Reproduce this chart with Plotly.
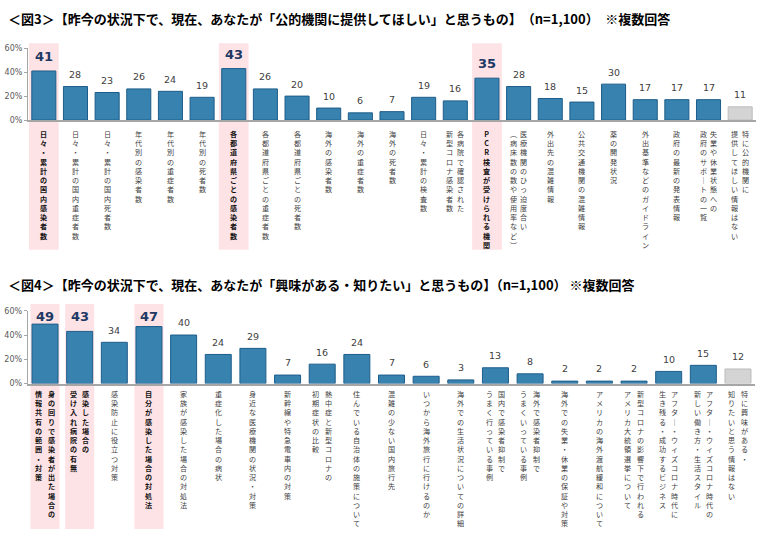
import plotly.graph_objects as go

# ---------------- data ----------------
title3 = "＜図3＞【昨今の状況下で、現在、あなたが「公的機関に提供してほしい」と思うもの】　（n=1,100）　※複数回答"
title4 = "＜図4＞【昨今の状況下で、現在、あなたが「興味がある・知りたい」と思うもの】（n=1,100） ※複数回答"

top_labels = [
    ["日々・累計の国内感染者数"],
    ["日々・累計の国内重症者数"],
    ["日々・累計の国内死者数"],
    ["年代別の感染者数"],
    ["年代別の重症者数"],
    ["年代別の死者数"],
    ["各都道府県ごとの感染者数"],
    ["各都道府県ごとの重症者数"],
    ["各都道府県ごとの死者数"],
    ["海外の感染者数"],
    ["海外の重症者数"],
    ["海外の死者数"],
    ["日々・累計の検査数"],
    ["各病院で確認された", "新型コロナ感染者数"],
    ["PCR検査が受けられる機関"],
    ["医療機関のひっ迫度合い", "（病床数の数や使用率など）"],
    ["外出先の混雑情報"],
    ["公共交通機関の混雑情報"],
    ["薬の開発状況"],
    ["外出基準などのガイドライン"],
    ["政府の最新の発表情報"],
    ["失業や休業状態への", "政府のサポートの一覧"],
    ["特に公的機関に", "提供してほしい情報はない"],
]
top_values = [41, 28, 23, 26, 24, 19, 43, 26, 20, 10, 6, 7, 19, 16, 35, 28, 18, 15, 30, 17, 17, 17, 11]
top_highlight = [0, 6, 14]
top_none = [22]

bot_labels = [
    ["身の回りで感染者が出た場合の", "情報共有の範囲・対策"],
    ["感染した場合の", "受け入れ病院の有無"],
    ["感染防止に役立つ対策"],
    ["自分が感染した場合の対処法"],
    ["家族が感染した場合の対処法"],
    ["重症化した場合の病状"],
    ["身近な医療機関の状況・対策"],
    ["新幹線や特急電車内の対策"],
    ["熱中症と新型コロナの", "初期症状の比較"],
    ["住んでいる自治体の施策について"],
    ["混雑の少ない国内旅行先"],
    ["いつから海外旅行に行けるのか"],
    ["海外での生活状況についての詳細"],
    ["国内で感染者抑制で", "うまく行っている事例"],
    ["海外で感染者抑制で", "うまくいっている事例"],
    ["海外での失業・休業の保証や対策"],
    ["アメリカの海外渡航緩和について"],
    ["新型コロナの影響下で行われる", "アメリカ大統領選挙について"],
    ["アフター・ウィズコロナ時代に", "生き残る・成功するビジネス"],
    ["アフター・ウィズコロナ時代の", "新しい働き方・生活スタイル"],
    ["特に興味がある・", "知りたいと思う情報はない"],
]
bot_values = [49, 43, 34, 47, 40, 24, 29, 7, 16, 24, 7, 6, 3, 13, 8, 2, 2, 2, 10, 15, 12]
bot_highlight = [0, 1, 3]
bot_none = [20]

tick_vals = [0, 20, 40, 60]
tick_text = ["0%", "20%", "40%", "60%"]

# ---------------- styling ----------------
W, H = 760, 538
BAR = "#3782af"
BAR_LINE = "#1e5d8a"
GRAY = "#d4d4d4"
GRAY_LINE = "#bcbcbc"
PINK = "#fde3e6"
AXIS = "#a6a6a6"
JP = "Noto Sans CJK JP"
NUM = "DejaVu Sans"
LAB_SIZE = 7.1

# vertical-writing forms for characters that rotate in tategaki
VERT = {"ー": "｜", "（": "︵", "）": "︶", "〜": "≀", "～": "≀"}


def py(p):
    return 1 - p / H


def px(p):
    return p / W


def vertical(s):
    return "<br>".join(VERT.get(ch, ch) for ch in s)


fig = go.Figure()

panels = [
    dict(labels=top_labels, values=top_values, hl=top_highlight, none=top_none,
         xa="x", ya="y", dom_x=(28, 756), dom_y=(118, 45), width=0.76,
         band=(40, 250), band_half=0.47, lab_top=126, col_off=0.17),
    dict(labels=bot_labels, values=bot_values, hl=bot_highlight, none=bot_none,
         xa="x2", ya="y2", dom_x=(27.7, 755.3), dom_y=(386, 312), width=0.75,
         band=(305, 534), band_half=0.42, lab_top=391, col_off=0.18),
]

annotations = []
shapes = []

for k, p in enumerate(panels):
    n = len(p["values"])
    xs = list(range(n))
    colors = [GRAY if i in p["none"] else BAR for i in xs]
    lcolors = [GRAY_LINE if i in p["none"] else BAR_LINE for i in xs]
    fig.add_trace(go.Bar(
        x=xs, y=p["values"], width=p["width"],
        marker=dict(color=colors, line=dict(color=lcolors, width=1)),
        xaxis=p["xa"], yaxis=p["ya"], hoverinfo="skip", showlegend=False,
    ))
    axis_suffix = "" if k == 0 else "2"
    fig.update_layout(**{
        "xaxis" + axis_suffix: dict(
            domain=[px(p["dom_x"][0]), px(p["dom_x"][1])], range=[-0.5, n - 0.5],
            showticklabels=False, showgrid=False, zeroline=False, ticks="",
            showline=True, linecolor=AXIS, linewidth=2, anchor=p["ya"], fixedrange=True,
        ),
        "yaxis" + axis_suffix: dict(
            domain=[py(p["dom_y"][0]), py(p["dom_y"][1])], range=[0, 60],
            tickvals=tick_vals, ticktext=tick_text, ticks="outside", ticklen=3,
            tickcolor=AXIS, showline=True, linecolor=AXIS, linewidth=1,
            showgrid=False, zeroline=False, anchor=p["xa"],
            tickfont=dict(family=NUM, size=8, color="#595959"), fixedrange=True,
        ),
    })
    # highlight bands
    for i in p["hl"]:
        shapes.append(dict(
            type="rect", xref=p["xa"], yref="paper",
            x0=i - p["band_half"], x1=i + p["band_half"],
            y0=py(p["band"][1]), y1=py(p["band"][0]),
            fillcolor=PINK, line=dict(width=0), layer="below",
        ))
    # value labels
    for i, v in enumerate(p["values"]):
        if i in p["hl"]:
            annotations.append(dict(
                x=i, y=min(v + 12, 55), xref=p["xa"], yref=p["ya"],
                text="<b>%d</b>" % v, showarrow=False, yanchor="middle",
                font=dict(family=NUM, size=13, color="#1f3864"),
            ))
        else:
            annotations.append(dict(
                x=i, y=v + 10, xref=p["xa"], yref=p["ya"],
                text=str(v), showarrow=False, yanchor="middle",
                font=dict(family=NUM, size=9.5, color="#404040"),
            ))
    # vertical category labels (first column is the right-hand one)
    for i, cols in enumerate(p["labels"]):
        bold = i in p["hl"]
        ncol = len(cols)
        for c, col in enumerate(cols):
            off = 0 if ncol == 1 else (p["col_off"] if c == 0 else -p["col_off"])
            txt = vertical(col)
            annotations.append(dict(
                x=i + off, y=py(p["lab_top"]), xref=p["xa"], yref="paper",
                text=("<b>%s</b>" % txt) if bold else txt, showarrow=False,
                xanchor="center", yanchor="top", align="center", borderpad=0,
                font=dict(family=JP, size=LAB_SIZE, color="#111111" if bold else "#404040"),
            ))

# titles
annotations.append(dict(
    x=px(6), y=py(15), xref="paper", yref="paper", xanchor="left", yanchor="middle",
    text="<b>%s</b>" % title3, showarrow=False, font=dict(family=JP, size=13, color="#000000"),
))
annotations.append(dict(
    x=px(6), y=py(285), xref="paper", yref="paper", xanchor="left", yanchor="middle",
    text="<b>%s</b>" % title4, showarrow=False, font=dict(family=JP, size=13, color="#000000"),
))

fig.update_layout(
    width=W, height=H, margin=dict(l=0, r=0, t=0, b=0),
    paper_bgcolor="white", plot_bgcolor="rgba(0,0,0,0)",
    annotations=annotations, shapes=shapes, bargap=0.24,
)

fig.write_html("out.html", config={"displayModeBar": False},
               post_script="document.body.style.margin='0';")
